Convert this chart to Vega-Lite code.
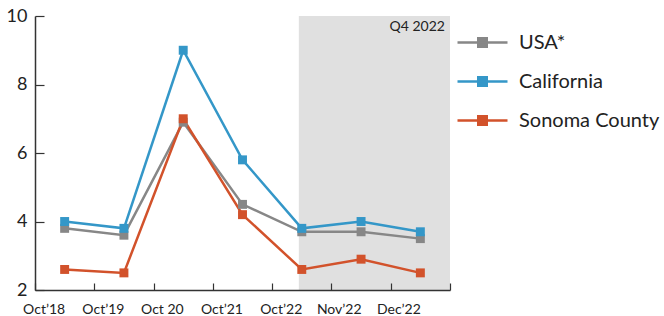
{
  "$schema": "https://vega.github.io/schema/vega-lite/v6.json",
  "width": 415,
  "height": 274,
  "autosize": {"type": "none"},
  "padding": {"left": 35, "top": 16, "right": 214, "bottom": 26},
  "config": {
    "font": "Lato",
    "view": {"stroke": null},
    "axis": {"domainColor": "#333333", "tickColor": "#333333", "labelColor": "#222222", "grid": false, "title": null}
  },
  "datasets": {
    "series": [
      {"period": "Oct’18", "region": "USA*", "rate": 3.8},
      {"period": "Oct’19", "region": "USA*", "rate": 3.6},
      {"period": "Oct 20", "region": "USA*", "rate": 6.9},
      {"period": "Oct’21", "region": "USA*", "rate": 4.5},
      {"period": "Oct’22", "region": "USA*", "rate": 3.7},
      {"period": "Nov’22", "region": "USA*", "rate": 3.7},
      {"period": "Dec’22", "region": "USA*", "rate": 3.5},
      {"period": "Oct’18", "region": "California", "rate": 4.0},
      {"period": "Oct’19", "region": "California", "rate": 3.8},
      {"period": "Oct 20", "region": "California", "rate": 9.0},
      {"period": "Oct’21", "region": "California", "rate": 5.8},
      {"period": "Oct’22", "region": "California", "rate": 3.8},
      {"period": "Nov’22", "region": "California", "rate": 4.0},
      {"period": "Dec’22", "region": "California", "rate": 3.7},
      {"period": "Oct’18", "region": "Sonoma County", "rate": 2.6},
      {"period": "Oct’19", "region": "Sonoma County", "rate": 2.5},
      {"period": "Oct 20", "region": "Sonoma County", "rate": 7.0},
      {"period": "Oct’21", "region": "Sonoma County", "rate": 4.2},
      {"period": "Oct’22", "region": "Sonoma County", "rate": 2.6},
      {"period": "Nov’22", "region": "Sonoma County", "rate": 2.9},
      {"period": "Dec’22", "region": "Sonoma County", "rate": 2.5}
    ],
    "shade": [
      {"start": "Oct’22", "end": "Dec’22", "low": 2, "high": 10, "label": "Q4 2022"}
    ]
  },
  "layer": [
    {
      "data": {"name": "shade"},
      "mark": {"type": "rect", "color": "#e0e0e0"},
      "encoding": {
        "x": {"field": "start", "type": "ordinal", "bandPosition": 0.45},
        "x2": {"field": "end", "bandPosition": 1},
        "y": {"field": "low", "type": "quantitative"},
        "y2": {"field": "high"}
      }
    },
    {
      "data": {"name": "shade"},
      "mark": {"type": "text", "align": "right", "baseline": "top", "dx": -5, "dy": 4, "fontSize": 14, "color": "#222222"},
      "encoding": {
        "x": {"field": "end", "type": "ordinal", "bandPosition": 1},
        "y": {"field": "high", "type": "quantitative"},
        "text": {"field": "label"}
      }
    },
    {
      "data": {"name": "series"},
      "mark": {"type": "line", "strokeWidth": 2.5, "point": {"shape": "square", "size": 80, "filled": true, "opacity": 1}},
      "encoding": {
        "x": {
          "field": "period", "type": "ordinal",
          "scale": {"domain": ["Oct’18", "Oct’19", "Oct 20", "Oct’21", "Oct’22", "Nov’22", "Dec’22"], "paddingInner": 0, "paddingOuter": 0},
          "axis": {"labelAngle": 0, "labelFontSize": 14, "tickSize": -7, "tickBand": "extent", "labelPadding": 26, "domainWidth": 1.5, "tickWidth": 1.2}
        },
        "y": {
          "field": "rate", "type": "quantitative",
          "scale": {"domain": [2, 10], "nice": false, "zero": false},
          "axis": {"values": [2, 4, 6, 8, 10], "labelFontSize": 18, "tickSize": -9, "labelPadding": 17, "domainWidth": 1.5, "tickWidth": 1.2}
        },
        "color": {
          "field": "region", "type": "nominal",
          "scale": {"domain": ["USA*", "California", "Sonoma County"], "range": ["#878787", "#3497c8", "#d2522b"]},
          "legend": {
            "orient": "none", "legendX": 421, "legendY": 0, "title": null,
            "symbolType": "M-1,0H1M-0.17,-0.17H0.17V0.17H-0.17Z",
            "symbolSize": 2500, "symbolStrokeWidth": 2.5,
            "labelFontSize": 20, "labelColor": "#222222", "labelOffset": 10, "rowPadding": 2,
            "encode": {"symbols": {"update": {"fill": {"scale": "color", "field": "value"}, "opacity": {"value": 1}}}}
          }
        }
      }
    }
  ]
}
